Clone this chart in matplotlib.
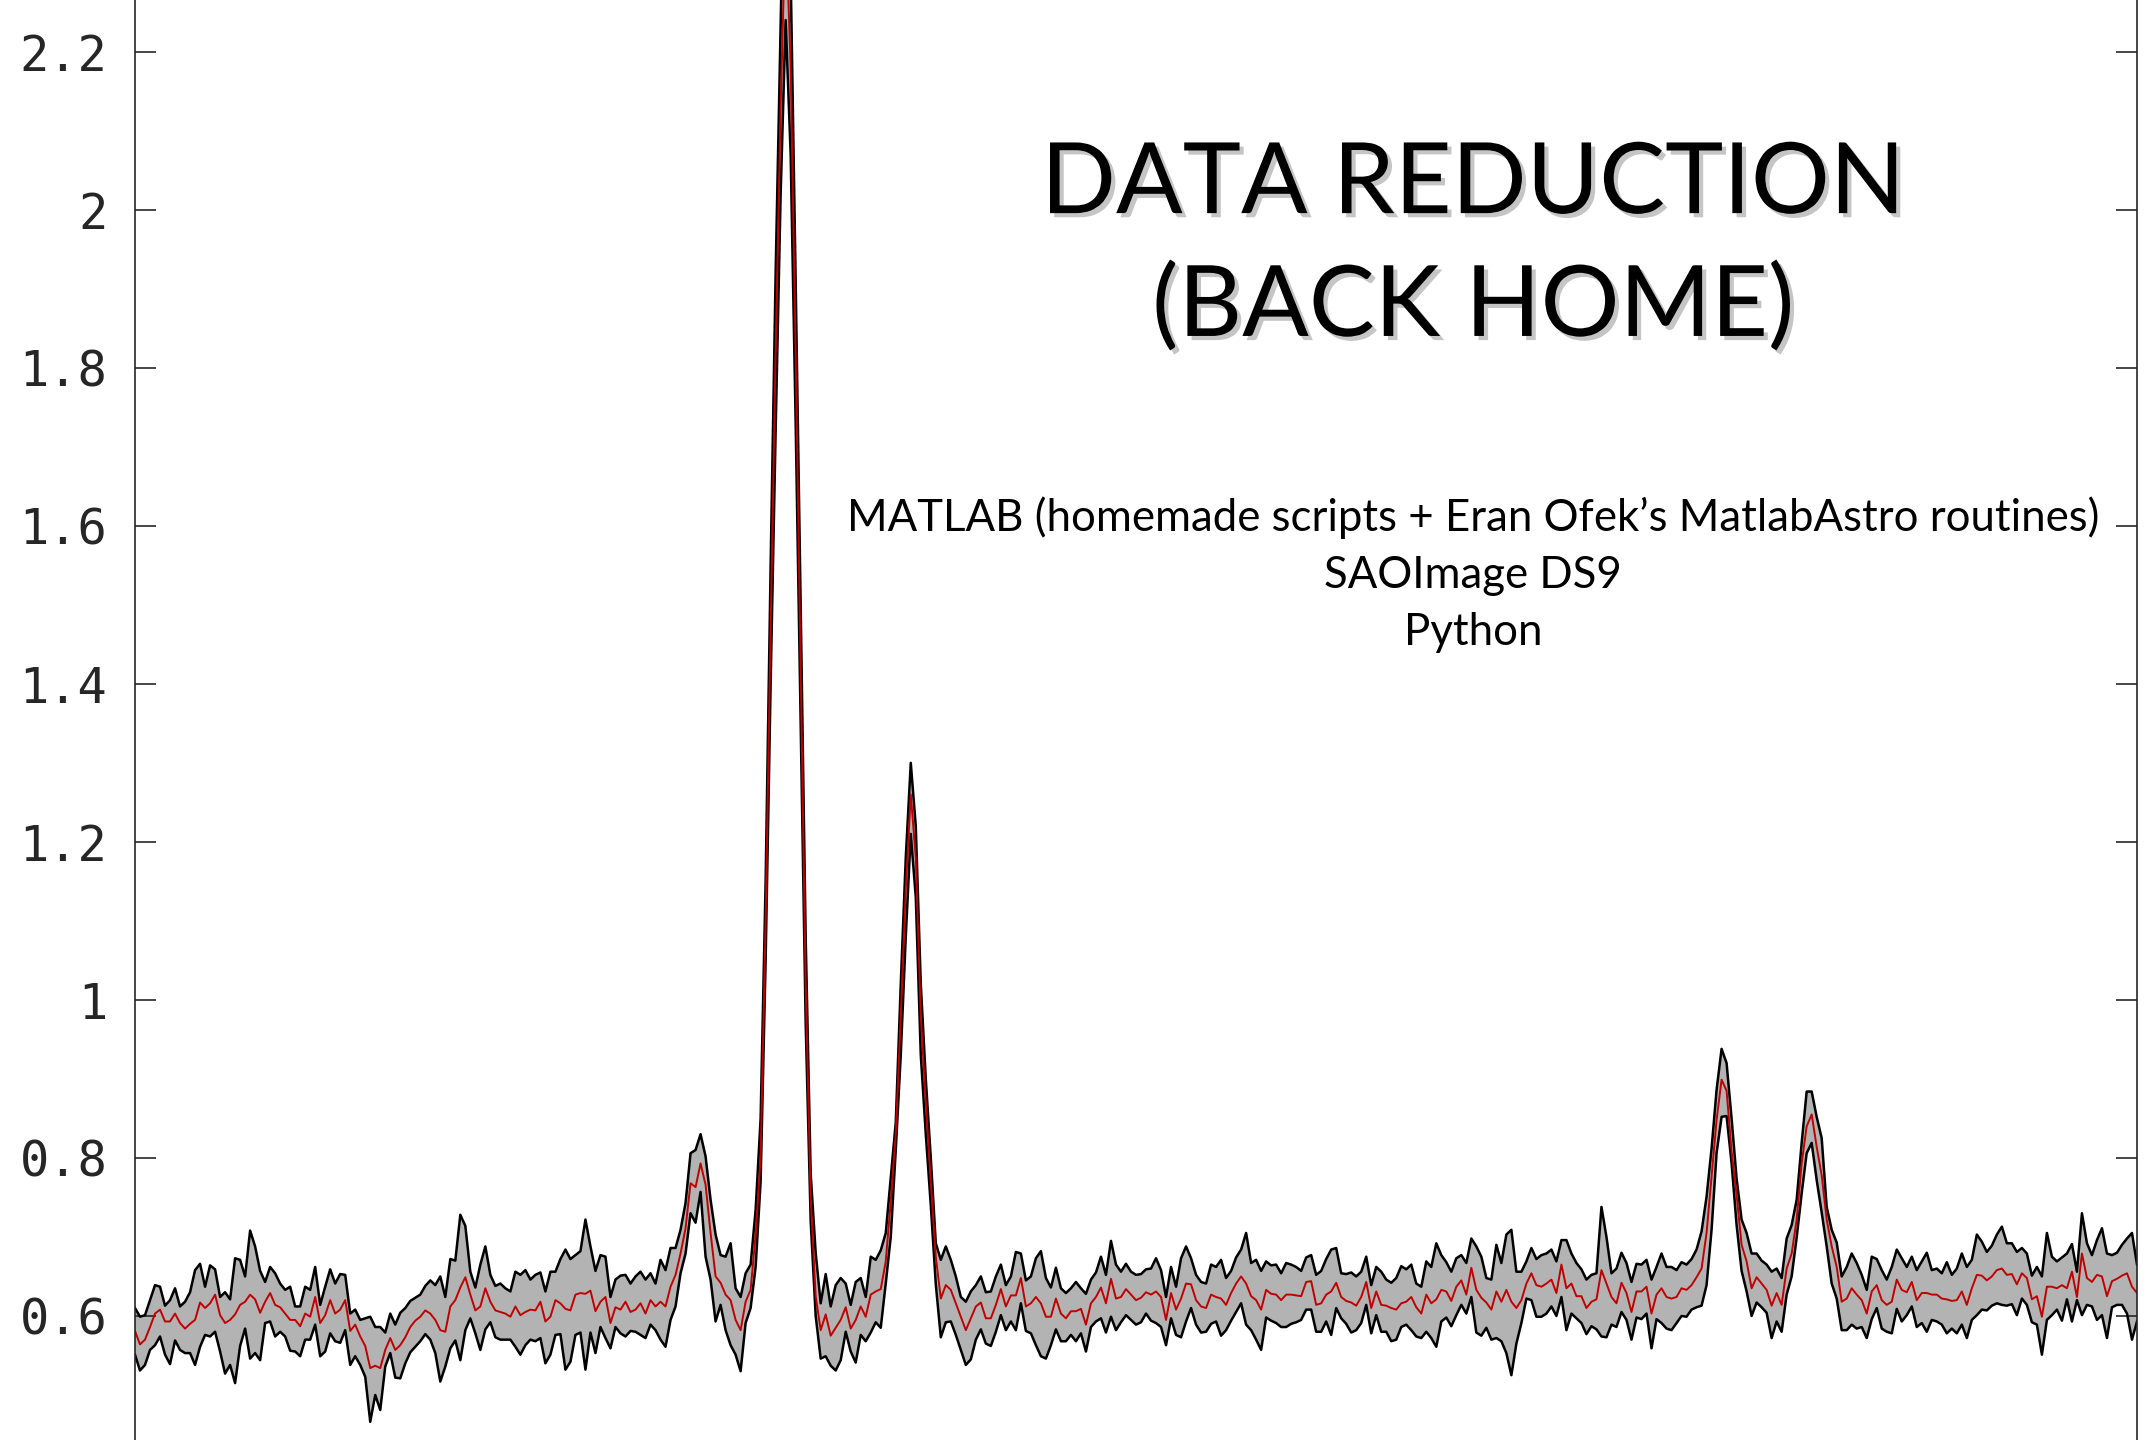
import numpy as np
import matplotlib.pyplot as plt
import matplotlib.patheffects as pe

# Spectrum envelope (upper / lower) and mean, one value per pixel bin
upper_flux = [
    0.610, 0.599, 0.601, 0.620, 0.639, 0.637, 0.613, 0.620, 0.635, 0.612,
    0.618, 0.630, 0.658, 0.666, 0.637, 0.664, 0.659, 0.624, 0.630, 0.621,
    0.673, 0.671, 0.650, 0.708, 0.688, 0.657, 0.643, 0.662, 0.654, 0.641,
    0.633, 0.637, 0.612, 0.612, 0.637, 0.633, 0.662, 0.614, 0.637, 0.659,
    0.641, 0.653, 0.652, 0.603, 0.608, 0.595, 0.597, 0.599, 0.586, 0.586,
    0.579, 0.603, 0.589, 0.604, 0.610, 0.619, 0.623, 0.627, 0.638, 0.645,
    0.639, 0.650, 0.624, 0.672, 0.670, 0.728, 0.714, 0.656, 0.636, 0.665,
    0.688, 0.652, 0.638, 0.641, 0.635, 0.631, 0.656, 0.652, 0.658, 0.646,
    0.652, 0.655, 0.631, 0.656, 0.656, 0.672, 0.684, 0.672, 0.677, 0.682,
    0.722, 0.688, 0.657, 0.677, 0.675, 0.624, 0.646, 0.651, 0.652, 0.641,
    0.650, 0.656, 0.646,
    0.654, 0.641, 0.671, 0.658, 0.686, 0.686, 0.709, 0.743, 0.806, 0.810,
    0.830, 0.802, 0.747, 0.703, 0.677, 0.675, 0.692, 0.635, 0.624, 0.654,
    0.665, 0.734,
    0.85, 1.15, 1.55, 1.92, 2.24, 2.50, 2.30, 1.91, 1.50, 1.08, 0.78,
    0.680, 0.616, 0.653, 0.612, 0.639, 0.648, 0.641, 0.614, 0.643, 0.648,
    0.624, 0.675, 0.671, 0.683, 0.705, 0.775,
    0.845, 1.02, 1.18, 1.30, 1.22, 1.02, 0.90, 0.80, 0.692,
    0.671, 0.688, 0.671, 0.650, 0.624, 0.618, 0.631, 0.639, 0.650, 0.630,
    0.631, 0.650, 0.665, 0.639, 0.650, 0.681, 0.679, 0.645, 0.650, 0.673,
    0.682, 0.648, 0.636, 0.661, 0.635, 0.629, 0.635, 0.643, 0.635, 0.628,
    0.646, 0.655, 0.675, 0.652, 0.695, 0.665, 0.656, 0.666, 0.656, 0.652,
    0.653, 0.659, 0.660, 0.673,
    0.658, 0.624, 0.662, 0.637, 0.673, 0.688, 0.673, 0.652, 0.643, 0.641,
    0.665, 0.662, 0.671, 0.648, 0.657, 0.674, 0.684, 0.705, 0.667, 0.671,
    0.657, 0.669, 0.664, 0.665, 0.654, 0.667, 0.665, 0.662, 0.657, 0.674,
    0.677, 0.652, 0.657, 0.672, 0.684, 0.686, 0.654, 0.653, 0.655, 0.650,
    0.656, 0.675, 0.639, 0.662, 0.656, 0.646, 0.642, 0.648, 0.663, 0.659,
    0.665, 0.641, 0.637, 0.669, 0.662, 0.692, 0.677, 0.668, 0.656, 0.673,
    0.677, 0.667, 0.698, 0.688, 0.675, 0.648, 0.646, 0.690, 0.667, 0.703,
    0.709, 0.656, 0.656, 0.669, 0.686, 0.672, 0.677, 0.679, 0.684, 0.669,
    0.696, 0.696, 0.679, 0.667, 0.659, 0.646, 0.652, 0.654, 0.738, 0.700,
    0.654, 0.660, 0.680, 0.667, 0.643, 0.666, 0.665, 0.671, 0.646, 0.662,
    0.679, 0.662,
    0.662, 0.658, 0.668, 0.665, 0.672, 0.684, 0.707, 0.751, 0.812, 0.886,
    0.938, 0.920, 0.850, 0.774, 0.722, 0.705, 0.679, 0.679, 0.670, 0.665,
    0.656, 0.660, 0.648, 0.698, 0.715, 0.747, 0.819, 0.884, 0.884, 0.852,
    0.825, 0.738, 0.709, 0.693, 0.650, 0.662, 0.679, 0.667, 0.652, 0.633,
    0.675, 0.672, 0.658, 0.646, 0.662, 0.684, 0.673, 0.662, 0.675, 0.658,
    0.669, 0.680, 0.658, 0.660, 0.654, 0.668, 0.652, 0.660, 0.679, 0.662,
    0.671, 0.703, 0.694, 0.681, 0.689, 0.703, 0.713, 0.692, 0.692, 0.681,
    0.686, 0.679, 0.651, 0.662, 0.650, 0.705, 0.675, 0.669, 0.674, 0.679,
    0.691, 0.656, 0.730, 0.692, 0.677, 0.696, 0.711, 0.679, 0.677, 0.680,
    0.690, 0.698, 0.705, 0.665,
]

mean_flux = [
    0.581, 0.564, 0.570, 0.586, 0.603, 0.608, 0.593, 0.593, 0.603, 0.591,
    0.584, 0.590, 0.595, 0.617, 0.610, 0.616, 0.627, 0.601, 0.591, 0.595,
    0.602, 0.614, 0.618, 0.627, 0.621, 0.604, 0.618, 0.629, 0.614, 0.611,
    0.603, 0.595, 0.595, 0.587, 0.603, 0.599, 0.624, 0.591, 0.601, 0.620,
    0.603, 0.608, 0.620, 0.581, 0.589, 0.574, 0.562, 0.534, 0.537, 0.534,
    0.557, 0.572, 0.557, 0.563, 0.573, 0.586, 0.594, 0.599, 0.607, 0.603,
    0.595, 0.582, 0.580, 0.612, 0.620, 0.636, 0.649, 0.627, 0.607, 0.612,
    0.635, 0.618, 0.607, 0.605, 0.603, 0.599, 0.612, 0.601, 0.605, 0.608,
    0.607, 0.618, 0.593, 0.599, 0.620, 0.616, 0.609, 0.607, 0.627, 0.629,
    0.628, 0.632, 0.606, 0.618, 0.624, 0.591, 0.611, 0.608, 0.618, 0.605,
    0.608, 0.616, 0.603,
    0.620, 0.612, 0.618, 0.612, 0.637, 0.652, 0.679, 0.711, 0.768, 0.763,
    0.793, 0.766, 0.705, 0.650, 0.642, 0.627, 0.620, 0.595, 0.582, 0.618,
    0.633, 0.703,
    0.80, 1.10, 1.47, 1.82, 2.13, 2.37, 2.18, 1.82, 1.42, 1.02, 0.75,
    0.625, 0.582, 0.602, 0.575, 0.585, 0.595, 0.611, 0.584, 0.595, 0.612,
    0.599, 0.627, 0.631, 0.634, 0.669, 0.745,
    0.830, 0.98, 1.14, 1.26, 1.18, 0.98, 0.87, 0.77, 0.675,
    0.622, 0.639, 0.633, 0.616, 0.599, 0.582, 0.597, 0.612, 0.617, 0.597,
    0.597, 0.614, 0.634, 0.612, 0.626, 0.626, 0.648, 0.612, 0.616, 0.624,
    0.616, 0.599, 0.599, 0.622, 0.603, 0.597, 0.606, 0.606, 0.609, 0.589,
    0.616, 0.624, 0.636, 0.616, 0.647, 0.622, 0.624, 0.634, 0.627, 0.620,
    0.623, 0.630, 0.627, 0.631,
    0.624, 0.595, 0.629, 0.608, 0.622, 0.641, 0.640, 0.620, 0.612, 0.610,
    0.627, 0.624, 0.622, 0.614, 0.629, 0.641, 0.650, 0.641, 0.625, 0.620,
    0.608, 0.633, 0.628, 0.627, 0.620, 0.627, 0.627, 0.626, 0.625, 0.643,
    0.644, 0.614, 0.616, 0.627, 0.631, 0.642, 0.624, 0.619, 0.617, 0.613,
    0.624, 0.643, 0.610, 0.631, 0.614, 0.613, 0.610, 0.608, 0.616, 0.618,
    0.624, 0.611, 0.603, 0.627, 0.616, 0.621, 0.633, 0.631, 0.619, 0.637,
    0.645, 0.627, 0.661, 0.633, 0.623, 0.617, 0.608, 0.631, 0.618, 0.633,
    0.618, 0.610, 0.620, 0.641, 0.654, 0.639, 0.637, 0.641, 0.646, 0.629,
    0.665, 0.635, 0.641, 0.625, 0.625, 0.610, 0.618, 0.621, 0.658, 0.641,
    0.624, 0.616, 0.642, 0.629, 0.605, 0.631, 0.631, 0.637, 0.603, 0.627,
    0.635, 0.624,
    0.622, 0.624, 0.635, 0.633, 0.639, 0.649, 0.660, 0.705, 0.776, 0.848,
    0.899, 0.885, 0.808, 0.753, 0.690, 0.669, 0.635, 0.649, 0.641, 0.633,
    0.613, 0.629, 0.614, 0.660, 0.679, 0.722, 0.793, 0.840, 0.855, 0.814,
    0.778, 0.722, 0.688, 0.662, 0.618, 0.622, 0.635, 0.627, 0.620, 0.603,
    0.631, 0.639, 0.620, 0.614, 0.618, 0.646, 0.633, 0.630, 0.643, 0.620,
    0.629, 0.629, 0.627, 0.627, 0.622, 0.621, 0.619, 0.620, 0.631, 0.614,
    0.635, 0.652, 0.651, 0.645, 0.650, 0.658, 0.660, 0.652, 0.653, 0.640,
    0.654, 0.648, 0.621, 0.625, 0.599, 0.637, 0.637, 0.635, 0.639, 0.635,
    0.656, 0.624, 0.679, 0.648, 0.643, 0.652, 0.650, 0.625, 0.644, 0.647,
    0.651, 0.654, 0.637, 0.629,
]

lower_flux = [
    0.551, 0.531, 0.538, 0.557, 0.563, 0.574, 0.551, 0.539, 0.569, 0.557,
    0.553, 0.553, 0.538, 0.561, 0.576, 0.574, 0.580, 0.555, 0.527, 0.538,
    0.515, 0.562, 0.584, 0.546, 0.553, 0.544, 0.591, 0.593, 0.574, 0.580,
    0.574, 0.556, 0.555, 0.549, 0.570, 0.570, 0.589, 0.549, 0.555, 0.578,
    0.568, 0.566, 0.582, 0.538, 0.549, 0.538, 0.523, 0.466, 0.500, 0.481,
    0.536, 0.553, 0.522, 0.521, 0.540, 0.554, 0.561, 0.568, 0.577, 0.570,
    0.553, 0.517, 0.536, 0.559, 0.569, 0.544, 0.582, 0.597, 0.578, 0.557,
    0.583, 0.592, 0.573, 0.570, 0.570, 0.570, 0.561, 0.551, 0.563, 0.570,
    0.568, 0.572, 0.540, 0.551, 0.576, 0.577, 0.532, 0.542, 0.576, 0.579,
    0.532, 0.579, 0.553, 0.586, 0.572, 0.559, 0.586, 0.578, 0.574, 0.581,
    0.580, 0.576, 0.572,
    0.589, 0.582, 0.570, 0.561, 0.595, 0.612, 0.654, 0.679, 0.730, 0.718,
    0.757, 0.675, 0.646, 0.593, 0.614, 0.582, 0.563, 0.551, 0.530, 0.591,
    0.610, 0.662,
    0.77, 1.05, 1.40, 1.72, 2.02, 2.24, 2.07, 1.73, 1.35, 0.97, 0.72,
    0.600, 0.546, 0.549, 0.537, 0.531, 0.544, 0.580, 0.555, 0.541, 0.576,
    0.568, 0.579, 0.592, 0.585, 0.641, 0.700,
    0.810, 0.93, 1.08, 1.21, 1.13, 0.93, 0.83, 0.74, 0.640,
    0.573, 0.592, 0.593, 0.576, 0.557, 0.538, 0.545, 0.570, 0.583, 0.565,
    0.562, 0.580, 0.601, 0.582, 0.593, 0.582, 0.616, 0.581, 0.578, 0.563,
    0.549, 0.546, 0.563, 0.583, 0.568, 0.568, 0.576, 0.568, 0.578, 0.555,
    0.586, 0.593, 0.597, 0.579, 0.599, 0.582, 0.592, 0.601, 0.595, 0.589,
    0.592, 0.603, 0.594, 0.591,
    0.586, 0.563, 0.597, 0.576, 0.573, 0.593, 0.610, 0.589, 0.579, 0.580,
    0.590, 0.593, 0.575, 0.582, 0.594, 0.605, 0.616, 0.589, 0.582, 0.570,
    0.557, 0.598, 0.594, 0.591, 0.586, 0.586, 0.590, 0.592, 0.595, 0.608,
    0.608, 0.580, 0.580, 0.593, 0.576, 0.610, 0.597, 0.590, 0.579, 0.582,
    0.591, 0.614, 0.578, 0.601, 0.580, 0.580, 0.568, 0.570, 0.586, 0.589,
    0.582, 0.574, 0.572, 0.580, 0.572, 0.561, 0.593, 0.598, 0.587, 0.601,
    0.614, 0.603, 0.624, 0.579, 0.575, 0.585, 0.570, 0.572, 0.568, 0.553,
    0.525, 0.565, 0.591, 0.622, 0.620, 0.599, 0.599, 0.603, 0.612, 0.600,
    0.624, 0.582, 0.603, 0.597, 0.591, 0.577, 0.587, 0.583, 0.574, 0.573,
    0.589, 0.586, 0.605, 0.595, 0.570, 0.598, 0.596, 0.603, 0.559, 0.596,
    0.591, 0.584,
    0.582, 0.591, 0.600, 0.599, 0.608, 0.611, 0.613, 0.639, 0.709, 0.806,
    0.852, 0.853, 0.793, 0.715, 0.657, 0.631, 0.600, 0.617, 0.611, 0.604,
    0.572, 0.593, 0.580, 0.627, 0.650, 0.699, 0.755, 0.806, 0.819, 0.772,
    0.731, 0.688, 0.641, 0.622, 0.582, 0.582, 0.589, 0.584, 0.586, 0.572,
    0.596, 0.610, 0.584, 0.580, 0.578, 0.609, 0.593, 0.601, 0.612, 0.586,
    0.591, 0.580, 0.595, 0.593, 0.589, 0.578, 0.584, 0.578, 0.589, 0.572,
    0.595, 0.601, 0.608, 0.607, 0.613, 0.616, 0.614, 0.613, 0.615, 0.601,
    0.622, 0.614, 0.592, 0.589, 0.551, 0.595, 0.601, 0.608, 0.594, 0.621,
    0.593, 0.620, 0.601, 0.614, 0.612, 0.595, 0.601, 0.572, 0.611, 0.614,
    0.614, 0.603, 0.570, 0.593,
]

y_ticks = [0.6, 0.8, 1.0, 1.2, 1.4, 1.6, 1.8, 2.0, 2.2]
y_tick_labels = ['0.6', '0.8', '1', '1.2', '1.4', '1.6', '1.8', '2', '2.2']

title_lines = ['DATA REDUCTION', '(BACK HOME)']
tool_lines = ['MATLAB (homemade scripts + Eran Ofek\u2019s MatlabAstro routines)',
              'SAOImage DS9',
              'Python']

assert len(upper_flux) == len(mean_flux) == len(lower_flux)

AXIS_COLOR = '#262626'

fig = plt.figure(figsize=(21.52, 14.4), dpi=100)
ax = fig.add_axes([135 / 2152, 0.0, 2002 / 2152, 1.0])

x = np.arange(len(mean_flux))
ax.fill_between(x, lower_flux, upper_flux, color='#b3b3b3', linewidth=0)
ax.plot(x, upper_flux, color='black', linewidth=1.8)
ax.plot(x, lower_flux, color='black', linewidth=1.8)
ax.plot(x, mean_flux, color='#c00000', linewidth=1.4)

ax.set_xlim(0, len(mean_flux) - 1)
ax.set_ylim(0.443, 2.2654)

# only the vertical frame lines are visible
for side in ['top', 'bottom']:
    ax.spines[side].set_visible(False)
for side in ['left', 'right']:
    ax.spines[side].set_color(AXIS_COLOR)
    ax.spines[side].set_linewidth(1.2)

ax.set_yticks(y_ticks)
ax.set_yticklabels(y_tick_labels, fontfamily='DejaVu Sans Mono')
ax.tick_params(axis='y', direction='in', length=15, width=1.2, color=AXIS_COLOR,
               left=True, right=True, labelsize=35, labelcolor=AXIS_COLOR, pad=20)
ax.tick_params(axis='x', bottom=False, labelbottom=False)

# slide headline with a soft drop shadow
shadow = [pe.SimplePatchShadow(offset=(3, -3), shadow_rgbFace='0.5', alpha=0.45), pe.Normal()]
fig.text(0.6845, 0.852, title_lines[0], ha='center', va='baseline',
         fontsize=71, family='Lato', color='black', path_effects=shadow)
fig.text(0.6845, 0.7667, title_lines[1], ha='center', va='baseline',
         fontsize=71, family='Lato', color='black', path_effects=shadow)

for yy, line in zip([0.631, 0.592, 0.552], tool_lines):
    fig.text(0.6845, yy, line, ha='center', va='baseline',
             fontsize=31.5, family='Lato', color='black')

fig.savefig('out.png', dpi=100)
